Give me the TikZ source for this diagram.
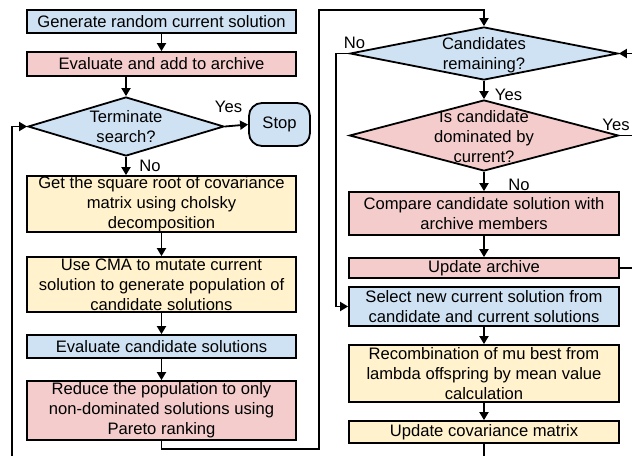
\documentclass[tikz,border=0pt]{standalone}
\usepackage{fontspec}
\setmainfont{Liberation Sans}
\usetikzlibrary{shapes.geometric,arrows.meta}
\definecolor{cblue}{HTML}{CFE2F3}
\definecolor{cpink}{HTML}{F4CCCC}
\definecolor{cyell}{HTML}{FFF2CC}
\begin{document}
\begin{tikzpicture}[x=1pt,y=-1pt,
  font=\fontsize{16.6}{20}\selectfont,
  line width=1.8pt,
  box/.style={draw=black,rectangle,inner sep=0pt,minimum width=269pt,align=center},
  dia/.style={draw=black,diamond,inner sep=0pt},
  txt/.style={inner sep=0pt,align=center},
  lbl/.style={inner sep=0pt},
  arr/.style={-{Triangle[length=8pt,width=9pt]}},
  ln/.style={line join=miter}
]
\useasboundingbox (0,0) rectangle (632,456);
% left column
\node[box,fill=cblue,minimum height=23pt] (b1) at (161.5,21.5) {Generate random current solution};
\node[box,fill=cpink,minimum height=24pt] (b2) at (161.5,64) {Evaluate and add to archive};
\node[dia,fill=cblue,minimum width=196pt,minimum height=59pt] (t) at (126,126.5) {};
\node[txt] at (126,127) {Terminate\\search?};
\node[draw=black,fill=cblue,rounded corners=13pt,minimum width=61pt,minimum height=43pt,inner sep=0pt] (stop) at (279.5,124.5) {Stop};
\node[box,fill=cyell,minimum height=56pt] (b3) at (161.5,204) {Get the square root of covariance\\matrix using cholsky\\decomposition};
\node[box,fill=cyell,minimum height=55pt] (b4) at (161.5,284.5) {Use CMA to mutate current\\solution to generate population of\\candidate solutions};
\node[box,fill=cblue,minimum height=23pt] (b5) at (161.5,346.5) {Evaluate candidate solutions};
\node[box,fill=cpink,minimum height=59pt] (b6) at (161.5,410.5) {Reduce the population to only\\non-dominated solutions using\\Pareto ranking};
% right column
\node[dia,fill=cblue,minimum width=268pt,minimum height=53pt] (c) at (484,53.5) {};
\node[txt] at (484,55) {Candidates\\remaining?};
\node[dia,fill=cpink,minimum width=269pt,minimum height=71pt] (d) at (484,135.5) {};
\node[txt] at (484,137) {Is candidate\\dominated by\\current?};
\node[box,fill=cpink,minimum width=270pt,minimum height=43pt] (cmp) at (484,213.5) {Compare candidate solution with\\archive members};
\node[box,fill=cpink,minimum width=270pt,minimum height=20pt] (upd) at (484,268) {Update archive};
\node[box,fill=cblue,minimum width=270pt,minimum height=39pt] (sel) at (484,306.5) {Select new current solution from\\candidate and current solutions};
\node[box,fill=cyell,minimum width=270pt,minimum height=57pt] (rec) at (484,373.5) {Recombination of mu best from\\lambda offspring by mean value\\calculation};
\node[box,fill=cyell,minimum width=270pt,minimum height=22pt] (cov) at (484,432) {Update covariance matrix};
% coordinates
\coordinate (k1) at (319,449);
\coordinate (k2) at (319,10);
\coordinate (lb) at (12,456);
\coordinate (lt) at (12,126.5);
\coordinate (nl) at (336,53.5);
\coordinate (re1) at (632,268);
\coordinate (re2) at (632,53.5);
\coordinate (re3) at (632,135.5);
\coordinate (cb) at (484,456);
% connectors
\draw[arr] (b1) -- (b2);
\draw[arr] (b2.south -| t.north) -- (t.north);
\draw[arr] (t.south) -- (t.south |- b3.north);
\draw[arr] (t.east) -- (stop.west);
\draw[arr] (b3) -- (b4);
\draw[arr] (b4) -- (b5);
\draw[arr] (b5) -- (b6);
\draw[arr,ln] (b6.south) |- (k1) -- (k2) -| (c.north);
\draw[arr,ln] (lb) -- (lt) -- (t.west);
\draw[arr] (c.south) -- (d.north);
\draw[arr,ln] (c.west) -- (nl) |- (sel.west);
\draw (d.east) -- (re3);
\draw[arr] (d.south) -- (cmp.north);
\draw[arr] (cmp) -- (upd);
\draw (upd.east) -- (re1);
\draw[arr] (re2) -- (c.east);
\draw[arr] (sel) -- (rec);
\draw[arr] (rec) -- (cov);
\draw (cov.south) -- (cb);
% labels
\node[lbl] at (228.5,107) {Yes};
\node[lbl] at (150,166) {No};
\node[lbl] at (354.5,43) {No};
\node[lbl] at (508.5,95) {Yes};
\node[lbl] at (519,185) {No};
\node[lbl] at (616,125) {Yes};
\end{tikzpicture}
\end{document}
